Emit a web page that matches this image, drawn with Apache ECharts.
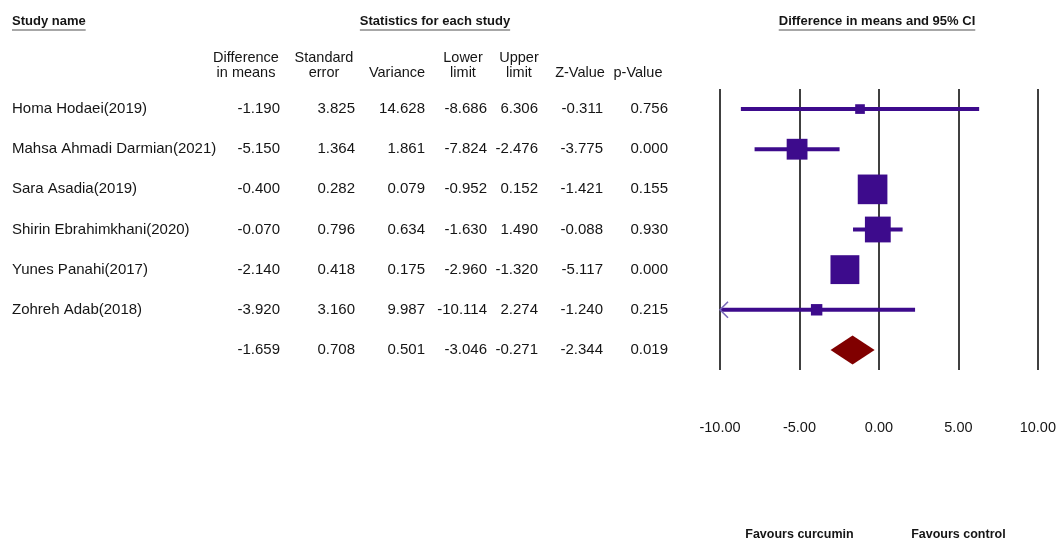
<!DOCTYPE html>
<html><head><meta charset="utf-8">
<script src="https://cdn.jsdelivr.net/npm/echarts@6/dist/echarts.min.js"></script>
<style>html,body{margin:0;padding:0;background:#fff}#c{width:1059px;height:542px}</style>
</head><body><div id="c"></div>
<script>
// ---------- data ----------
const studyNames = ['Homa Hodaei(2019)', 'Mahsa Ahmadi Darmian(2021)', 'Sara Asadia(2019)', 'Shirin Ebrahimkhani(2020)', 'Yunes Panahi(2017)', 'Zohreh Adab(2018)', ''];
const diffMeans  = [-1.190, -5.150, -0.400, -0.070, -2.140, -3.920, -1.659];
const stdErr     = [3.825, 1.364, 0.282, 0.796, 0.418, 3.160, 0.708];
const variance   = [14.628, 1.861, 0.079, 0.634, 0.175, 9.987, 0.501];
const lowerLimit = [-8.686, -7.824, -0.952, -1.630, -2.960, -10.114, -3.046];
const upperLimit = [6.306, -2.476, 0.152, 1.490, -1.320, 2.274, -0.271];
const zValue     = [-0.311, -3.775, -1.421, -0.088, -5.117, -1.240, -2.344];
const pValue     = [0.756, 0.000, 0.155, 0.930, 0.000, 0.215, 0.019];
const summaryRow = 6;
const tau2 = 1.65; // between-study variance (random effects weights)
const axisMin = -10, axisMax = 10, axisStep = 5;
const colHeaders = [['Difference', 'in means'], ['Standard', 'error'], ['', 'Variance'], ['Lower', 'limit'], ['Upper', 'limit'], ['', 'Z-Value'], ['', 'p-Value']];
const titles = ['Study name', 'Statistics for each study', 'Difference in means and 95% CI'];
const favours = ['Favours curcumin', 'Favours control'];
const favoursAt = [-5, 5];

// ---------- styles / layout ----------
const FONT = '"Liberation Sans", Arial, sans-serif';
const PURPLE = '#3d0b8c', MAROON = '#800000', TXT = '#151515';
const colRight = [280, 355, 425, 487, 538, 603, 668];
const colCenter = [246, 324, 397, 463, 519, 580, 638];
const tableFont = 15, headFont = 14.5;
const sizeK = 39;

const weights = variance.map(v => 1 / (v + tau2));
const rows = studyNames.map((_, i) => i);

const chart = echarts.init(document.getElementById('c'), null, {renderer: 'canvas'});

const ciData = [], sqData = [];
for (let i = 0; i < rows.length; i++) {
  if (i === summaryRow) continue;
  ciData.push([lowerLimit[i], upperLimit[i], i]);
  sqData.push([diffMeans[i], i, Math.sqrt(weights[i]) * sizeK]);
}

chart.setOption({
  animation: false,
  backgroundColor: '#fff',
  grid: {left: 720, width: 320, top: 89, height: 281, containLabel: false},
  xAxis: {
    type: 'value', min: axisMin, max: axisMax, interval: axisStep,
    axisLine: {show: false}, axisTick: {show: false},
    splitLine: {show: true, lineStyle: {color: '#404040', width: 2}},
    axisLabel: {formatter: v => v.toFixed(2), margin: 50, fontSize: 14.5, color: TXT, fontFamily: FONT}
  },
  yAxis: {type: 'category', data: rows, inverse: true, show: false},
  series: [
    {
      type: 'custom', data: ciData, clip: false,
      renderItem: (params, api) => {
        const lo = api.value(0), hi = api.value(1), r = api.value(2);
        const p1 = api.coord([Math.max(lo, axisMin), r]);
        const p2 = api.coord([Math.min(hi, axisMax), r]);
        const children = [{type: 'line', shape: {x1: p1[0], y1: p1[1], x2: p2[0], y2: p2[1]}, style: {stroke: PURPLE, lineWidth: 4}}];
        if (lo < axisMin) {
          children.push({type: 'polyline', shape: {points: [[p1[0] + 8, p1[1] - 8], [p1[0], p1[1]], [p1[0] + 8, p1[1] + 8]]}, style: {stroke: '#7868b8', lineWidth: 1.6, fill: null}});
        }
        return {type: 'group', children};
      }
    },
    {
      type: 'scatter', data: sqData, symbol: 'rect',
      symbolSize: v => v[2],
      itemStyle: {color: PURPLE, opacity: 1}
    },
    {
      type: 'custom', clip: false,
      data: [[lowerLimit[summaryRow], diffMeans[summaryRow], upperLimit[summaryRow], summaryRow]],
      renderItem: (params, api) => {
        const r = api.value(3);
        const a = api.coord([api.value(0), r]), m = api.coord([api.value(1), r]), b = api.coord([api.value(2), r]);
        const hh = 14.5;
        return {type: 'polygon', shape: {points: [a, [m[0], m[1] - hh], b, [m[0], m[1] + hh]]}, style: {fill: MAROON}};
      }
    }
  ]
});

// ---------- text table (positioned from the y axis) ----------
const measure = (() => { const c = document.createElement('canvas').getContext('2d'); return (t, f) => { c.font = f; return c.measureText(t).width; }; })();
const g = [];
const fmt = v => v.toFixed(3);
const cols = [diffMeans, stdErr, variance, lowerLimit, upperLimit, zValue, pValue];
rows.forEach(i => {
  const y = chart.convertToPixel({yAxisIndex: 0}, i);
  if (studyNames[i]) g.push({type: 'text', x: 12, y: y, style: {text: studyNames[i], font: tableFont + 'px ' + FONT, fill: TXT, align: 'left', verticalAlign: 'middle'}});
  cols.forEach((arr, c) => {
    g.push({type: 'text', x: colRight[c], y: y, style: {text: fmt(arr[i]), font: tableFont + 'px ' + FONT, fill: TXT, align: 'right', verticalAlign: 'middle'}});
  });
});
colHeaders.forEach((h, c) => {
  h.forEach((t, k) => {
    if (!t) return;
    g.push({type: 'text', x: colCenter[c], y: 58 + k * 15, style: {text: t, font: headFont + 'px ' + FONT, fill: TXT, align: 'center', verticalAlign: 'middle'}});
  });
});
const titleFont = 'bold 13px ' + FONT;
const titleX = [12, 435, 877];
const titleAlign = ['left', 'center', 'center'];
titles.forEach((t, k) => {
  const w = measure(t, titleFont);
  const x0 = titleAlign[k] === 'left' ? titleX[k] : titleX[k] - w / 2;
  g.push({type: 'text', x: titleX[k], y: 21, style: {text: t, font: titleFont, fill: TXT, align: titleAlign[k], verticalAlign: 'middle'}});
  g.push({type: 'line', shape: {x1: x0, y1: 30, x2: x0 + w, y2: 30}, style: {stroke: '#8a8a8a', lineWidth: 1.5}});
});
favours.forEach((t, k) => {
  const x = chart.convertToPixel({xAxisIndex: 0}, favoursAt[k]);
  g.push({type: 'text', x: x, y: 535, style: {text: t, font: 'bold 12.5px ' + FONT, fill: TXT, align: 'center', verticalAlign: 'middle'}});
});
chart.setOption({graphic: {elements: g}});
</script>
</body></html>
